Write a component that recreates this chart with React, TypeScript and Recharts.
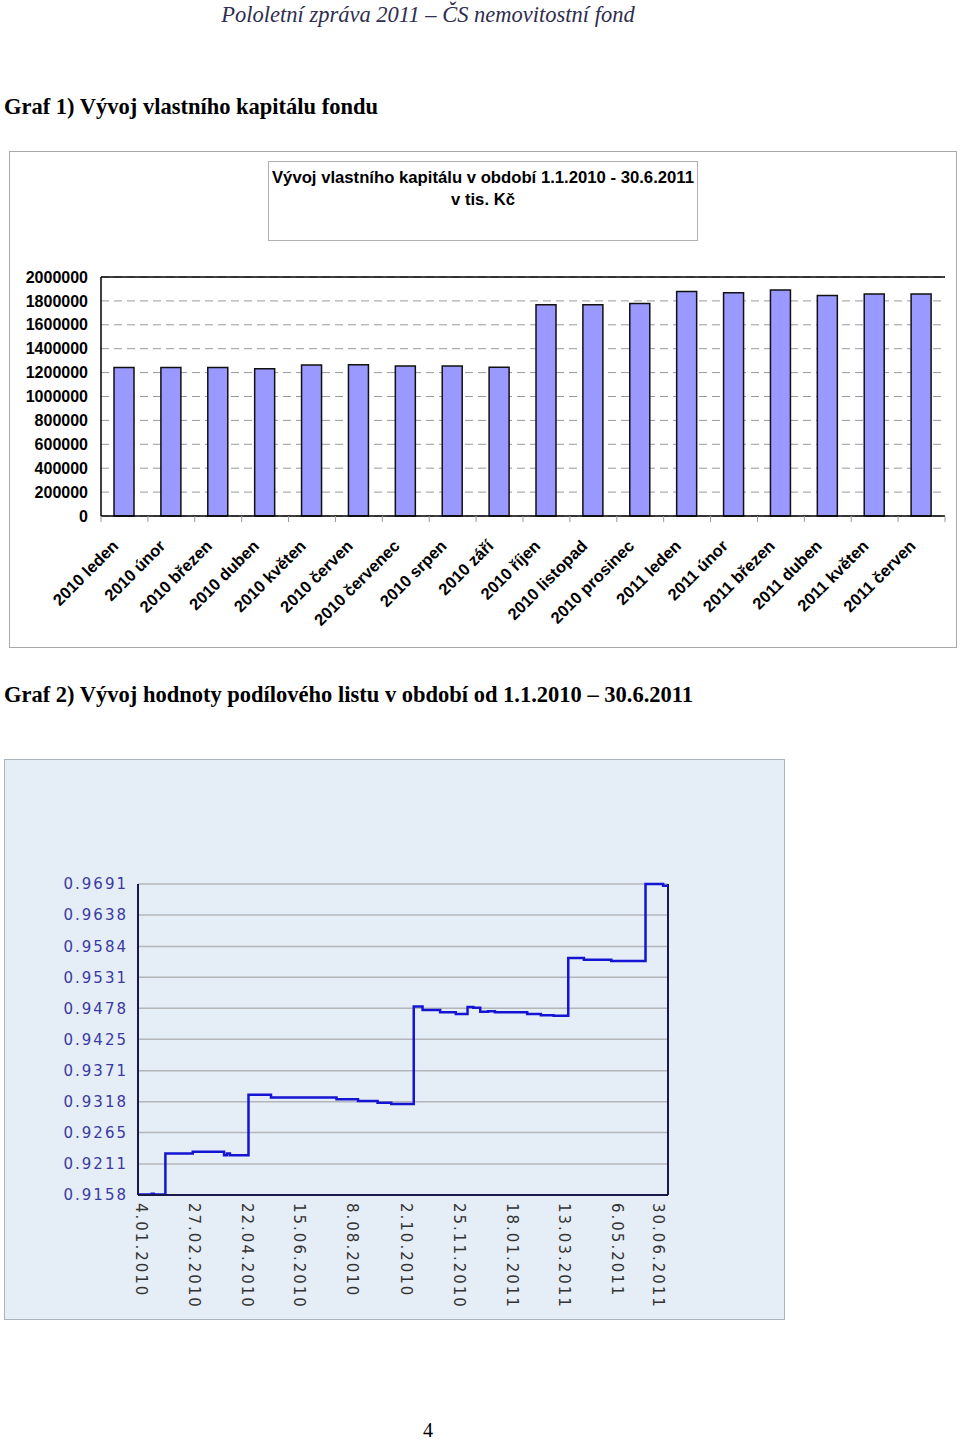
import React from "react";
import {
  BarChart,
  Bar,
  XAxis,
  YAxis,
  CartesianGrid,
  ReferenceLine,
  LineChart,
  Line,
} from "recharts";

// Graf 1 – vlastní kapitál (tis. Kč)
const MONTHS = [
  "2010 leden",
  "2010 únor",
  "2010 březen",
  "2010 duben",
  "2010 květen",
  "2010 červen",
  "2010 červenec",
  "2010 srpen",
  "2010 září",
  "2010 říjen",
  "2010 listopad",
  "2010 prosinec",
  "2011 leden",
  "2011 únor",
  "2011 březen",
  "2011 duben",
  "2011 květen",
  "2011 červen",
];
const EQUITY = [
  1242000, 1242000, 1242000, 1233000, 1264000, 1265000, 1256000, 1256000,
  1244000, 1768000, 1767000, 1778000, 1879000, 1868000, 1891000, 1846000,
  1857000, 1857000,
];
const EQUITY_TICKS = [
  0, 200000, 400000, 600000, 800000, 1000000, 1200000, 1400000, 1600000,
  1800000, 2000000,
];

// Graf 2 – hodnota podílového listu
const NAV_DATES = [
  "4.01.2010", "18.01.2010", "20.01.2010", "1.02.2010", "1.03.2010",
  "2.04.2010", "5.04.2010", "8.04.2010", "27.04.2010", "20.05.2010",
  "26.07.2010", "17.08.2010", "6.09.2010", "20.09.2010", "13.10.2010",
  "22.10.2010", "9.11.2010", "25.11.2010", "7.12.2010", "13.12.2010",
  "20.12.2010", "28.12.2010", "4.01.2011", "6.02.2011", "20.02.2011",
  "5.03.2011", "20.03.2011", "5.04.2011", "3.05.2011", "7.06.2011",
  "25.06.2011", "30.06.2011",
];
const NAV_VALUES = [
  0.9159, 0.916, 0.9159, 0.9229, 0.9232,
  0.9226, 0.9229, 0.9226, 0.933, 0.9325,
  0.9322, 0.9319, 0.9316, 0.9314, 0.9481,
  0.9475, 0.9471, 0.9468, 0.948, 0.9479,
  0.9472, 0.9473, 0.9471, 0.9468, 0.9466,
  0.9465, 0.9564, 0.9561, 0.9559, 0.9691,
  0.9688, 0.9688,
];
const NAV_TICKS = [
  0.9158, 0.9211, 0.9265, 0.9318, 0.9371, 0.9425, 0.9478, 0.9531, 0.9584,
  0.9638, 0.9691,
];
const DATE_TICKS = [
  "4.01.2010", "27.02.2010", "22.04.2010", "15.06.2010", "8.08.2010",
  "2.10.2010", "25.11.2010", "18.01.2011", "13.03.2011", "6.05.2011",
  "30.06.2011",
];

const parseDate = (s: string) => {
  const [d, m, y] = s.split(".").map(Number);
  return Date.UTC(y, m - 1, d);
};
const fmtDate = (ms: number) => {
  const d = new Date(ms);
  const mm = String(d.getUTCMonth() + 1).padStart(2, "0");
  return `${d.getUTCDate()}.${mm}.${d.getUTCFullYear()}`;
};

const barData = MONTHS.map((m, i) => ({ month: m, value: EQUITY[i] }));
const navData = NAV_DATES.map((d, i) => ({ t: parseDate(d), v: NAV_VALUES[i] }));
const dateTicks = DATE_TICKS.map(parseDate);

const BAR_W = 948;
const BAR_H = 497;
const BAR_PLOT_W = 844;
const SANS = "'Liberation Sans', Arial, sans-serif";
const SERIF = "'Liberation Serif', 'Times New Roman', serif";

function MonthTick(props: any) {
  const { x, y, payload, index } = props;
  const half = BAR_PLOT_W / MONTHS.length / 2;
  const last = index === MONTHS.length - 1;
  return (
    <g>
      <line x1={x - half} x2={x - half} y1={y} y2={y + 6} stroke="#999" />
      {last && <line x1={x + half} x2={x + half} y1={y} y2={y + 6} stroke="#999" />}
      <text
        x={0}
        y={0}
        transform={`translate(${x - 5},${y + 31}) rotate(-45)`}
        textAnchor="end"
        fontFamily={SANS}
        fontWeight="bold"
        fontSize={16.5}
        fill="#000"
      >
        {payload.value}
      </text>
    </g>
  );
}

function DateTick(props: any) {
  const { x, y, payload, index } = props;
  const last = index === DATE_TICKS.length - 1;
  return (
    <text
      x={0}
      y={0}
      transform={`translate(${x + (last ? -15 : -2)},${y + 8}) rotate(90)`}
      textAnchor="start"
      fontFamily="'DejaVu Sans', Verdana, sans-serif"
      fontSize={15}
      letterSpacing={2}
      fill="#333"
    >
      {fmtDate(payload.value)}
    </text>
  );
}

export default function App() {
  return (
    <div
      style={{
        position: "absolute",
        left: 0,
        top: 0,
        width: 960,
        height: 1441,
        background: "#fff",
        overflow: "hidden",
      }}
    >
      <div
        style={{
          position: "absolute",
          top: 4,
          left: 0,
          width: 856,
          textAlign: "center",
          fontFamily: SERIF,
          fontStyle: "italic",
          fontSize: 22.5,
          lineHeight: "22px",
          color: "#2e2e4e",
        }}
      >
        Pololetní zpráva 2011 – ČS nemovitostní fond
      </div>

      <div
        style={{
          position: "absolute",
          top: 96,
          left: 4,
          fontFamily: SERIF,
          fontWeight: "bold",
          fontSize: 22.5,
          lineHeight: "22px",
          whiteSpace: "nowrap",
        }}
      >
        Graf 1) Vývoj vlastního kapitálu fondu
      </div>

      {/* Graf 1 */}
      <div
        style={{
          position: "absolute",
          left: 9,
          top: 151,
          width: BAR_W,
          height: BAR_H,
          boxSizing: "border-box",
          border: "1px solid #aaa",
        }}
      >
        <BarChart
          width={BAR_W - 2}
          height={BAR_H - 2}
          data={barData}
          margin={{ top: 125, right: 11, left: 0, bottom: 9 }}
          barCategoryGap={0}
        >
          <CartesianGrid
            vertical={false}
            stroke="#999"
            strokeDasharray="8 5"
          />
          <XAxis
            dataKey="month"
            interval={0}
            height={122}
            tickSize={0}
            tickMargin={0}
            tickLine={false}
            axisLine={{ stroke: "#000", strokeWidth: 1.5 }}
            tick={<MonthTick />}
          />
          <YAxis
            width={91}
            domain={[0, 2000000]}
            ticks={EQUITY_TICKS}
            interval={0}
            tickSize={0}
            tickMargin={13}
            tickLine={false}
            axisLine={{ stroke: "#000", strokeWidth: 1.5 }}
            tick={{ fontFamily: SANS, fontWeight: "bold", fontSize: 16, fill: "#000" }}
          />
          <YAxis
            yAxisId="r"
            orientation="right"
            width={0}
            domain={[0, 2000000]}
            tick={false}
            tickLine={false}
            axisLine={{ stroke: "#000", strokeWidth: 1.5 }}
          />
          <ReferenceLine y={2000000} stroke="#000" strokeWidth={1.5} />
          <Bar
            dataKey="value"
            barSize={20}
            fill="#9999ff"
            stroke="#111"
            strokeWidth={1.5}
            isAnimationActive={false}
          />
        </BarChart>
        <div
          style={{
            position: "absolute",
            left: 258,
            top: 9,
            width: 430,
            height: 80,
            boxSizing: "border-box",
            border: "1px solid #b0b0b0",
            paddingTop: 5,
            textAlign: "center",
            fontFamily: SANS,
            fontWeight: "bold",
            fontSize: 16.7,
            lineHeight: "22px",
            background: "#fff",
            whiteSpace: "nowrap",
          }}
        >
          Vývoj vlastního kapitálu v období 1.1.2010 - 30.6.2011
          <br />v tis. Kč
        </div>
      </div>

      <div
        style={{
          position: "absolute",
          top: 684,
          left: 4,
          fontFamily: SERIF,
          fontWeight: "bold",
          fontSize: 22.5,
          lineHeight: "22px",
          whiteSpace: "nowrap",
        }}
      >
        Graf 2) Vývoj hodnoty podílového listu v období od 1.1.2010 – 30.6.2011
      </div>

      {/* Graf 2 */}
      <div
        style={{
          position: "absolute",
          left: 4,
          top: 759,
          width: 781,
          height: 561,
          boxSizing: "border-box",
          border: "1px solid #a9b4be",
          background: "#e5edf7",
        }}
      >
        <LineChart
          width={779}
          height={559}
          data={navData}
          margin={{ top: 124, right: 116, left: 0, bottom: 9 }}
        >
          <CartesianGrid vertical={false} stroke="#b4b6b8" strokeWidth={1.5} />
          <XAxis
            dataKey="t"
            type="number"
            domain={["dataMin", "dataMax"]}
            ticks={dateTicks}
            interval={0}
            height={115}
            tickSize={0}
            tickMargin={0}
            tickLine={false}
            axisLine={{ stroke: "#1a1a4a", strokeWidth: 2 }}
            tick={<DateTick />}
          />
          <YAxis
            width={133}
            domain={[0.9158, 0.9691]}
            ticks={NAV_TICKS}
            interval={0}
            tickSize={0}
            tickMargin={10}
            tickLine={false}
            axisLine={{ stroke: "#1a1a4a", strokeWidth: 2 }}
            tickFormatter={(v: number) => v.toFixed(4)}
            tick={{
              fontFamily: "'DejaVu Sans', Verdana, sans-serif",
              fontSize: 15,
              letterSpacing: 2,
              fill: "#3a3aa0",
            }}
          />
          <ReferenceLine
            x={navData[navData.length - 1].t}
            stroke="#1a1a4a"
            strokeWidth={2}
          />
          <Line
            type="stepAfter"
            dataKey="v"
            stroke="#1414d2"
            strokeWidth={2.5}
            dot={false}
            isAnimationActive={false}
          />
        </LineChart>
      </div>

      <div
        style={{
          position: "absolute",
          top: 1420,
          left: 0,
          width: 856,
          textAlign: "center",
          fontFamily: SERIF,
          fontSize: 20,
          lineHeight: "20px",
        }}
      >
        4
      </div>
    </div>
  );
}
